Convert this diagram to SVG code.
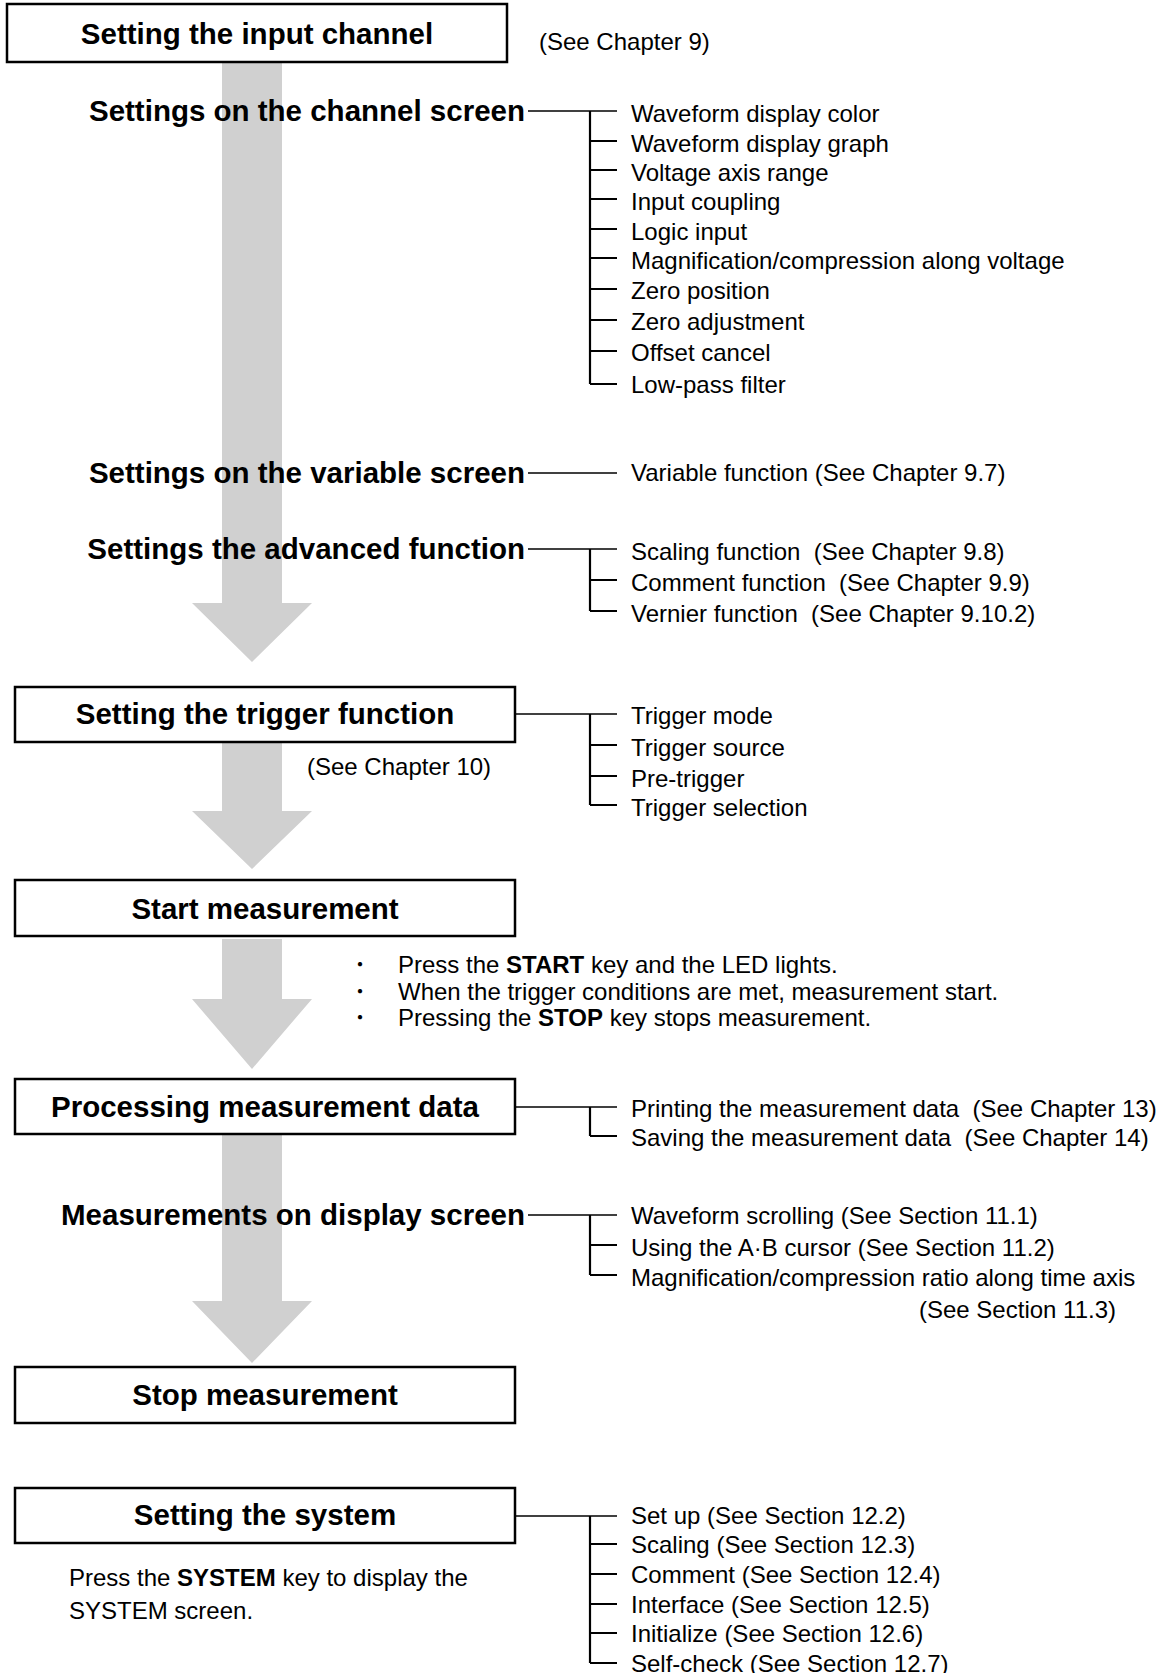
<svg xmlns="http://www.w3.org/2000/svg" width="1170" height="1673" viewBox="0 0 1170 1673">
<style>
.box{fill:#fff;stroke:#000;stroke-width:2.5}
.arr{fill:#d0d0d0;stroke:none}
.b{font-family:"Liberation Sans",Arial,sans-serif;font-weight:bold;font-size:29.5px;fill:#000}
.t{font-family:"Liberation Sans",Arial,sans-serif;font-size:24px;fill:#000}
.c{text-anchor:middle}
.e{text-anchor:end}
.ln{stroke:#000;stroke-width:1.5;fill:none}
.tr{stroke:#000;stroke-width:2.2;fill:none}
.dot{font-family:"Noto Sans CJK JP","Liberation Sans",sans-serif;font-size:20px;text-anchor:middle}
</style>
<g id="arrows">
<polygon class="arr" points="222,62 282,62 282,603 312,603 252,662 192,603 222,603"/>
<polygon class="arr" points="222,743 282,743 282,811 312,811 252,869 192,811 222,811"/>
<polygon class="arr" points="222,939 282,939 282,999 312,999 252,1069 192,999 222,999"/>
<polygon class="arr" points="222,1134 282,1134 282,1301 312,1301 252,1363 192,1301 222,1301"/>
</g>
<g id="connectors">
<path class="ln" d="M528,111 H617"/>
<path class="tr" d="M590,111 V384 M590,141 H617 M590,170 H617 M590,199 H617 M590,229 H617 M590,258 H617 M590,289 H617 M590,320 H617 M590,351 H617 M590,384 H617"/>
<path class="ln" d="M528,473 H617"/>
<path class="ln" d="M528,549 H617"/>
<path class="tr" d="M590,549 V611 M590,580 H617 M590,611 H617"/>
<path class="ln" d="M515,714 H617"/>
<path class="tr" d="M590,714 V805 M590,745 H617 M590,776 H617 M590,805 H617"/>
<path class="ln" d="M515,1107 H617"/>
<path class="tr" d="M590,1107 V1136 M590,1136 H617"/>
<path class="ln" d="M528,1215 H617"/>
<path class="tr" d="M590,1215 V1275 M590,1245 H617 M590,1275 H617"/>
<path class="ln" d="M515,1516 H617"/>
<path class="tr" d="M590,1516 V1663 M590,1544 H617 M590,1574 H617 M590,1604 H617 M590,1633 H617 M590,1663 H617"/>
</g>
<g id="node-input-channel">
<rect class="box" x="7" y="4" width="500" height="58"/>
<text class="b c" x="257" y="44">Setting the input channel</text>
<text class="t" x="539" y="50">(See Chapter 9)</text>
</g>
<g id="node-channel-screen">
<text class="b e" x="525" y="121">Settings on the channel screen</text>
<text class="t" x="631" y="122">Waveform display color</text>
<text class="t" x="631" y="152">Waveform display graph</text>
<text class="t" x="631" y="181">Voltage axis range</text>
<text class="t" x="631" y="210">Input coupling</text>
<text class="t" x="631" y="240">Logic input</text>
<text class="t" x="631" y="269">Magnification/compression along voltage</text>
<text class="t" x="631" y="299">Zero position</text>
<text class="t" x="631" y="330">Zero adjustment</text>
<text class="t" x="631" y="361">Offset cancel</text>
<text class="t" x="631" y="393">Low-pass filter</text>
</g>
<g id="node-variable-screen">
<text class="b e" x="525" y="483">Settings on the variable screen</text>
<text class="t" x="631" y="481">Variable function (See Chapter 9.7)</text>
</g>
<g id="node-advanced-function">
<text class="b e" x="525" y="559">Settings the advanced function</text>
<text class="t" x="631" y="560" xml:space="preserve">Scaling function  (See Chapter 9.8)</text>
<text class="t" x="631" y="591" xml:space="preserve">Comment function  (See Chapter 9.9)</text>
<text class="t" x="631" y="622" xml:space="preserve">Vernier function  (See Chapter 9.10.2)</text>
</g>
<g id="node-trigger">
<rect class="box" x="15" y="687" width="500" height="55"/>
<text class="b c" x="265" y="724">Setting the trigger function</text>
<text class="t" x="307" y="775">(See Chapter 10)</text>
<text class="t" x="631" y="724">Trigger mode</text>
<text class="t" x="631" y="756">Trigger source</text>
<text class="t" x="631" y="787">Pre-trigger</text>
<text class="t" x="631" y="816">Trigger selection</text>
</g>
<g id="node-start">
<rect class="box" x="15" y="880" width="500" height="56"/>
<text class="b c" x="265" y="919">Start measurement</text>
<text class="dot" x="360" y="972">・</text>
<text class="t" x="398" y="973">Press the <tspan font-weight="bold">START</tspan> key and the LED lights.</text>
<text class="dot" x="360" y="999">・</text>
<text class="t" x="398" y="1000">When the trigger conditions are met, measurement start.</text>
<text class="dot" x="360" y="1025">・</text>
<text class="t" x="398" y="1026">Pressing the <tspan font-weight="bold">STOP</tspan> key stops measurement.</text>
</g>
<g id="node-processing">
<rect class="box" x="15" y="1079" width="500" height="55"/>
<text class="b c" x="265" y="1117">Processing measurement data</text>
<text class="t" x="631" y="1117" xml:space="preserve">Printing the measurement data  (See Chapter 13)</text>
<text class="t" x="631" y="1146" xml:space="preserve">Saving the measurement data  (See Chapter 14)</text>
</g>
<g id="node-display-screen">
<text class="b e" x="525" y="1225">Measurements on display screen</text>
<text class="t" x="631" y="1224">Waveform scrolling (See Section 11.1)</text>
<text class="t" x="631" y="1256">Using the A·B cursor (See Section 11.2)</text>
<text class="t" x="631" y="1286">Magnification/compression ratio along time axis</text>
<text class="t" x="919" y="1318">(See Section 11.3)</text>
</g>
<g id="node-stop">
<rect class="box" x="15" y="1367" width="500" height="56"/>
<text class="b c" x="265" y="1405">Stop measurement</text>
</g>
<g id="node-system">
<rect class="box" x="15" y="1488" width="500" height="55"/>
<text class="b c" x="265" y="1525">Setting the system</text>
<text class="t" x="69" y="1586">Press the <tspan font-weight="bold">SYSTEM</tspan> key to display the</text>
<text class="t" x="69" y="1619">SYSTEM screen.</text>
<text class="t" x="631" y="1524">Set up (See Section 12.2)</text>
<text class="t" x="631" y="1553">Scaling (See Section 12.3)</text>
<text class="t" x="631" y="1583">Comment (See Section 12.4)</text>
<text class="t" x="631" y="1613">Interface (See Section 12.5)</text>
<text class="t" x="631" y="1642">Initialize (See Section 12.6)</text>
<text class="t" x="631" y="1672">Self-check (See Section 12.7)</text>
</g>
</svg>
